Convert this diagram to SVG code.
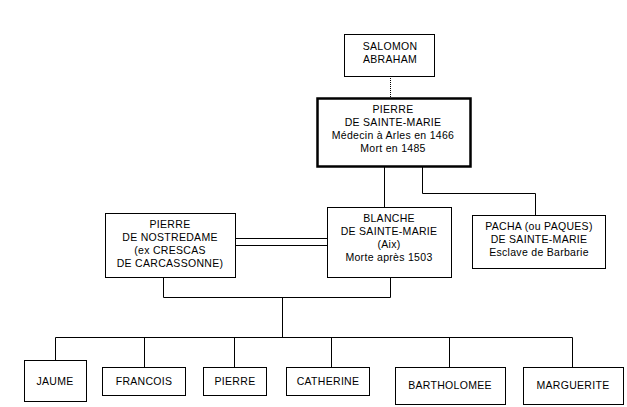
<svg xmlns="http://www.w3.org/2000/svg" width="627" height="407" viewBox="0 0 627 407">
<style>
rect{fill:#fff;stroke:#000;stroke-width:1}
.thick{stroke-width:2.5}
text{font-family:"Liberation Sans",Arial,sans-serif;font-size:10.5px;text-anchor:middle;fill:#000;letter-spacing:0.3px}
.c{fill:none;stroke:#000;stroke-width:1}
</style>
<rect width="627" height="407" style="stroke:none"/>
<g id="connectors" class="c">
<path d="M390.5 76V98" stroke-dasharray="1,1"/>
<path d="M384.5 167V207"/>
<path d="M422.5 167V193.5H535.5V215"/>
<path d="M235 238.5H327M235 245.5H327"/>
<path d="M163.5 277V297.5H390.5V277"/>
<path d="M282.5 297V337.5"/>
<path d="M55.5 360V337.5H572.5V367M144.5 337V367M234.5 337V367M331.5 337V367M449.5 337V367"/>
</g>
<g id="salomon"><rect x="344.5" y="34.5" width="90" height="42"/><text x="390" y="50">SALOMON</text><text x="390" y="63">ABRAHAM</text></g>
<g id="pierre-sm"><rect class="thick" x="317.5" y="98.5" width="153" height="68"/><text x="393" y="113">PIERRE</text><text x="393" y="126">DE SAINTE-MARIE</text><text x="393" y="139">Médecin à Arles en 1466</text><text x="393" y="152">Mort en 1485</text></g>
<g id="pierre-n"><rect x="105.5" y="213.5" width="130" height="64"/><text x="170" y="228">PIERRE</text><text x="170" y="241">DE NOSTREDAME</text><text x="170" y="254">(ex CRESCAS</text><text x="170" y="267">DE CARCASSONNE)</text></g>
<g id="blanche"><rect x="327.5" y="207.5" width="124" height="70"/><text x="389" y="222">BLANCHE</text><text x="389" y="235">DE SAINTE-MARIE</text><text x="389" y="248">(Aix)</text><text x="389" y="261">Morte après 1503</text></g>
<g id="pacha"><rect x="472.5" y="215.5" width="133" height="53"/><text x="539" y="230">PACHA (ou PAQUES)</text><text x="539" y="243">DE SAINTE-MARIE</text><text x="539" y="256">Esclave de Barbarie</text></g>
<g id="jaume"><rect x="24.5" y="360.5" width="62" height="41"/><text x="55" y="385">JAUME</text></g>
<g id="francois"><rect x="102.5" y="367.5" width="83" height="28"/><text x="144" y="385">FRANCOIS</text></g>
<g id="pierre"><rect x="203.5" y="367.5" width="63" height="28"/><text x="235" y="385">PIERRE</text></g>
<g id="catherine"><rect x="286.5" y="367.5" width="83" height="28"/><text x="328" y="385">CATHERINE</text></g>
<g id="bartholomee"><rect x="395.5" y="367.5" width="110" height="37"/><text x="450" y="389">BARTHOLOMEE</text></g>
<g id="marguerite"><rect x="523.5" y="367.5" width="100" height="37"/><text x="573" y="389">MARGUERITE</text></g>
</svg>
